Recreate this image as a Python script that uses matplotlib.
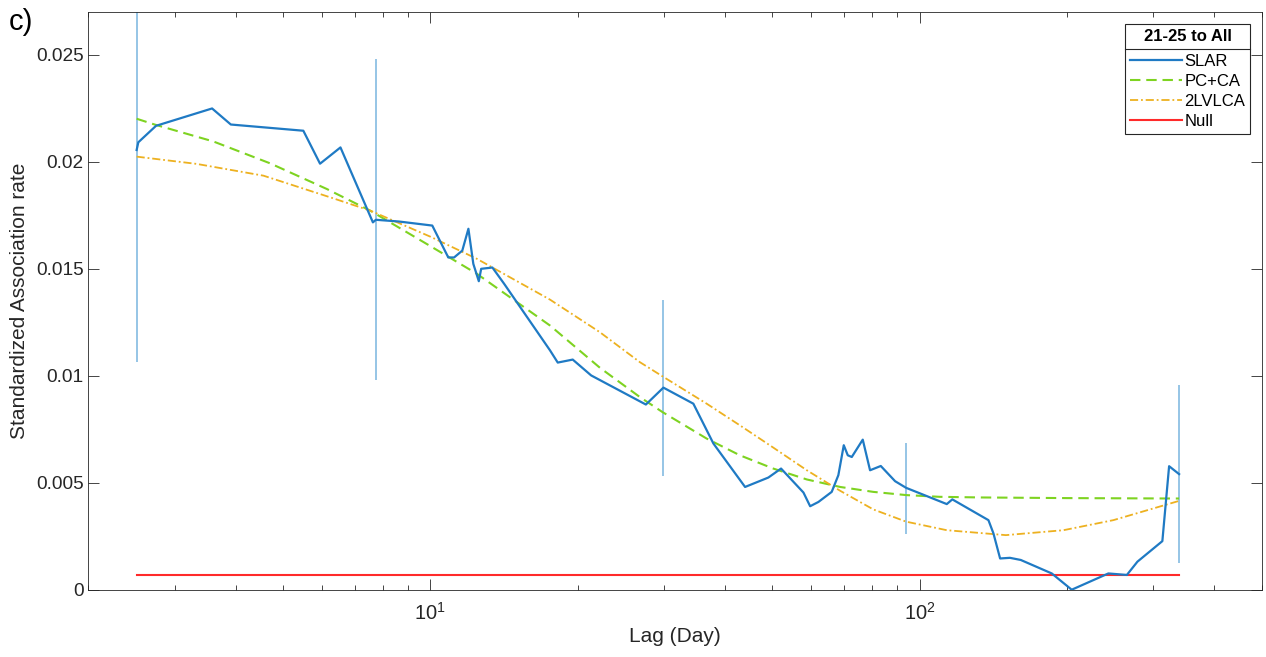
import matplotlib
matplotlib.use("Agg")
import matplotlib.pyplot as plt
from matplotlib.ticker import LogLocator, NullFormatter, FuncFormatter, FixedLocator
from matplotlib.lines import Line2D

plt.rcParams['font.family'] = ['Liberation Sans', 'DejaVu Sans']
plt.rcParams['mathtext.fontset'] = 'custom'
plt.rcParams['mathtext.rm'] = 'Liberation Sans'
plt.rcParams['mathtext.it'] = 'Liberation Sans:italic'
plt.rcParams['mathtext.bf'] = 'Liberation Sans:bold'

# =========================================================
# DATA
# =========================================================

slar_lag = [2.51, 2.53, 2.75, 3.58, 3.91, 5.50, 5.95, 6.55, 7.63, 7.74,
            8.62, 10.09, 10.88, 11.18, 11.62, 11.96, 12.24, 12.56, 12.70, 13.39,
            14.15, 17.56, 18.21, 19.54, 21.31, 27.57, 29.94, 34.47, 37.88, 43.97,
            49.06, 52.08, 57.87, 59.72, 62.10, 66.1, 68.2, 69.96, 71.29, 72.65,
            76.5, 79.17, 83.27, 89.07, 93.8, 113.6, 116.6, 138.2, 141.5, 146.0,
            152.9, 160.9, 186.2, 204.5, 243.0, 265.1, 278.6, 313.3, 323.4, 339.0]
slar_rate = [0.02054, 0.0209, 0.02167, 0.02248, 0.02173, 0.02144, 0.0199, 0.02066, 0.01716, 0.01728,
             0.0172, 0.01701, 0.01552, 0.01552, 0.01584, 0.01686, 0.01522, 0.01441, 0.01499, 0.01505,
             0.01429, 0.01118, 0.01061, 0.01075, 0.01001, 0.00865, 0.00944, 0.00869, 0.00683, 0.0048,
             0.00524, 0.00566, 0.00454, 0.0039, 0.0041, 0.00457, 0.00535, 0.00675, 0.00628, 0.0062,
             0.00701, 0.00558, 0.00578, 0.00507, 0.00476, 0.004, 0.00422, 0.00325, 0.00263, 0.00146,
             0.00149, 0.00139, 0.00076, 0.0, 0.00076, 0.00069, 0.00131, 0.00227, 0.00577, 0.0054]

# error bars on SLAR
err_lag = [2.51, 7.74, 29.94, 93.8, 339.0]
err_low = [0.01062, 0.00978, 0.00532, 0.00258, 0.00123]
err_high = [0.03046, 0.02479, 0.01354, 0.00687, 0.00955]

pcca_lag = [2.51, 2.74, 3.60, 4.70, 6.14, 7.53, 10.0, 12.44, 17.56, 22.2,
            26.8, 29.8, 36.7, 42.9, 50.2, 58.8, 68.8, 80.4, 93.9, 109.8,
            132.9, 200.0, 339.0]
pcca_rate = [0.0220, 0.02172, 0.02094, 0.01992, 0.01872, 0.01771, 0.01605, 0.01476, 0.01234, 0.01037,
             0.0090, 0.0083, 0.00706, 0.00628, 0.00566, 0.00515, 0.0048, 0.00457, 0.00442, 0.00434,
             0.00431, 0.00428, 0.00426]

lvl2_lag = [2.51, 3.33, 4.56, 6.24, 7.53, 10.0, 12.44, 17.56, 22.2, 26.8,
            29.8, 36.7, 42.9, 50.2, 58.8, 68.8, 80.4, 93.8, 113.6, 150.0,
            196.7, 248.8, 339.0]
lvl2_rate = [0.02023, 0.01989, 0.01934, 0.01833, 0.01771, 0.01649, 0.01546, 0.01355, 0.01203, 0.01063,
             0.00997, 0.00869, 0.00768, 0.00664, 0.00558, 0.00462, 0.00375, 0.00318, 0.00278, 0.00255,
             0.00278, 0.00325, 0.00415]

null_lag = [2.51, 339.0]
null_rate = [0.0007, 0.0007]

Y_TICKS = [0, 0.005, 0.01, 0.015, 0.02, 0.025]

# =========================================================
# PLOT
# =========================================================

AX_COLOR = "#262626"

fig = plt.figure(figsize=(12.66, 6.57), dpi=100)
ax = fig.add_axes([0.0698, 0.1024, 0.9268, 0.8798])

ax.vlines(err_lag, err_low, err_high, color="#8dc0e4", linewidth=1.3, zorder=1)
ax.plot(slar_lag, slar_rate, color="#1f7ac4", linewidth=1.6, label="SLAR", zorder=3)
ax.plot(pcca_lag, pcca_rate, color="#7ed321", linewidth=1.5, linestyle=(0, (5, 2.8)),
        label="PC+CA", zorder=2)
ax.plot(lvl2_lag, lvl2_rate, color="#edb120", linewidth=1.3, linestyle=(0, (4.5, 1.6, 1, 1.6)),
        label="2LVLCA", zorder=2)
ax.plot(null_lag, null_rate, color="#ff2a2a", linewidth=1.5, label="Null", zorder=2)

ax.set_xscale("log")
ax.set_xlim(2, 500)
ax.set_ylim(0, 0.027)

ax.xaxis.set_major_locator(LogLocator(base=10))
ax.xaxis.set_minor_locator(LogLocator(base=10, subs=range(2, 10)))
ax.xaxis.set_minor_formatter(NullFormatter())
ax.yaxis.set_major_locator(FixedLocator(Y_TICKS))
ax.yaxis.set_major_formatter(FuncFormatter(lambda v, p: "%g" % v))

ax.tick_params(which="both", direction="in", top=True, right=True,
               color=AX_COLOR, labelcolor=AX_COLOR, labelsize=13.7)
ax.tick_params(which="major", length=7.9, width=0.6)
ax.tick_params(which="minor", length=3.8, width=0.6)
ax.tick_params(axis="x", which="major", pad=9, labelsize=14.5)
for sp in ax.spines.values():
    sp.set_color(AX_COLOR)
    sp.set_linewidth(0.6)

ax.set_xlabel("Lag (Day)", fontsize=15, color=AX_COLOR, labelpad=2)
ax.set_ylabel("Standardized Association rate", fontsize=15, color=AX_COLOR, labelpad=5)

fig.text(0.007, 0.988, "c)", fontsize=21, va="top", ha="left", color="black")

leg = ax.legend(title="21-25 to All", loc="upper right", bbox_to_anchor=(0.9902, 0.9787),
                fontsize=12, title_fontproperties={"weight": "bold", "size": 12},
                frameon=True, fancybox=False, edgecolor=AX_COLOR, framealpha=1,
                handlelength=3.1, handletextpad=0.15, borderaxespad=0,
                labelspacing=0.3, borderpad=0.3)
leg.get_frame().set_linewidth(0.8)
# a bit more room between the title and the entries
leg._legend_box.sep = 0.3 * 12 + 3.6

# separator line under the legend title, halfway to the first entry
fig.canvas.draw()
renderer = fig.canvas.get_renderer()
frame_bb = leg.get_frame().get_window_extent(renderer)
title_bb = leg.get_title().get_window_extent(renderer)
first_bb = leg.get_texts()[0].get_window_extent(renderer)
sep_y = 0.5 * ((title_bb.y0 + title_bb.y1) / 2 + (first_bb.y0 + first_bb.y1) / 2)
inv = fig.transFigure.inverted()
(x0, y0), (x1, _) = inv.transform([(frame_bb.x0, sep_y), (frame_bb.x1, sep_y)])
fig.add_artist(Line2D([x0, x1], [y0, y0], transform=fig.transFigure,
                      color=AX_COLOR, linewidth=0.8, zorder=10))

plt.savefig("out.png", dpi=100)
plt.close()
